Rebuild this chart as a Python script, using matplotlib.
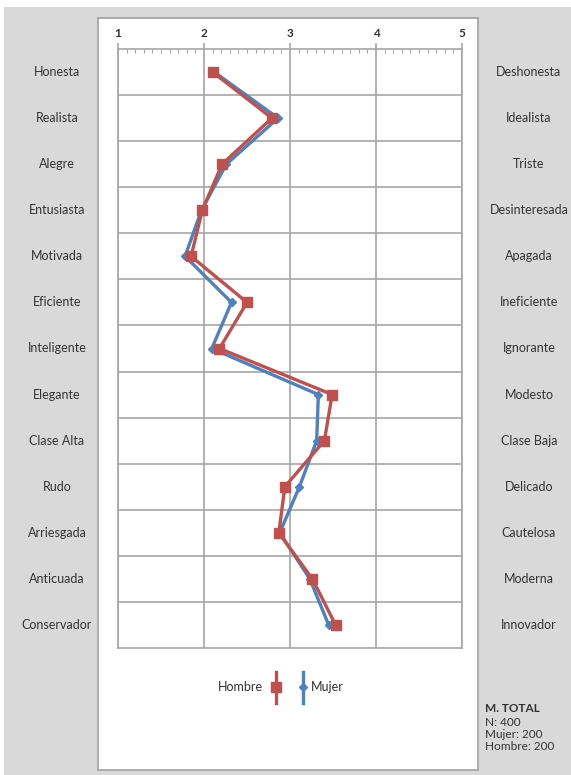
import matplotlib.pyplot as plt
from matplotlib.lines import Line2D
from matplotlib.patches import Rectangle
from matplotlib.ticker import MultipleLocator

left_labels = ["Honesta", "Realista", "Alegre", "Entusiasta", "Motivada", "Eficiente",
               "Inteligente", "Elegante", "Clase Alta", "Rudo", "Arriesgada",
               "Anticuada", "Conservador"]
right_labels = ["Deshonesta", "Idealista", "Triste", "Desinteresada", "Apagada",
                "Ineficiente", "Ignorante", "Modesto", "Clase Baja", "Delicado",
                "Cautelosa", "Moderna", "Innovador"]
hombre = [2.10, 2.79, 2.21, 1.98, 1.85, 2.50, 2.18, 3.49, 3.40, 2.94, 2.87, 3.26, 3.53]
mujer = [2.12, 2.86, 2.26, 1.97, 1.78, 2.32, 2.09, 3.33, 3.31, 3.11, 2.88, 3.23, 3.45]
x_ticks = [1, 2, 3, 4, 5]

RED = "#c0504d"
BLUE = "#4f81bd"
GRID = "#a6a6a6"
TXT = "#333333"
W, H = 571, 775

plt.rcParams['font.family'] = ['Lato', 'DejaVu Sans']

fig = plt.figure(figsize=(W / 100, H / 100), dpi=100)
fig.patch.set_facecolor("white")

# gray background and white panel
fig.add_artist(Rectangle((4 / W, 0), 1 - 4 / W, 1 - 7 / H, transform=fig.transFigure,
                         facecolor="#d9d9d9", edgecolor="none", zorder=-10))
fig.add_artist(Rectangle((98 / W, 1 - 770 / H), 380 / W, 752 / H, transform=fig.transFigure,
                         facecolor="white", edgecolor="#a0a0a0", lw=1.2, zorder=-9))

ax = fig.add_axes([118 / W, 1 - 648 / H, 344 / W, 599 / H])
ax.set_facecolor("white")
ypos = list(range(len(left_labels)))

ax.plot(mujer, ypos, color=BLUE, lw=2.4, marker="D", ms=4.5, zorder=3)
ax.plot(hombre, ypos, color=RED, lw=2.4, marker="s", ms=7, zorder=4)

ax.set_xlim(1, 5)
ax.set_ylim(len(left_labels) - 0.5, -0.5)
ax.xaxis.tick_top()
ax.set_xticks(x_ticks)
ax.set_xticklabels([str(t) for t in x_ticks], fontsize=8.5, color=TXT, fontweight="bold")
ax.xaxis.set_minor_locator(MultipleLocator(0.1))
ax.tick_params(axis="x", which="major", direction="out", length=4, width=1.2, color=GRID, pad=3)
ax.tick_params(axis="x", which="minor", direction="in", length=3, width=0.8, color=GRID)
ax.set_yticks([i + 0.5 for i in ypos[:-1]])
ax.set_yticklabels([])
ax.tick_params(axis="y", length=0)
ax.grid(True, which="major", color=GRID, lw=1.2)
for s in ax.spines.values():
    s.set_color(GRID)
    s.set_linewidth(1.2)
ax.set_axisbelow(True)

tr = ax.get_yaxis_transform()
for i in ypos:
    ax.text((57 - 118) / 344, i, left_labels[i], transform=tr, ha="center", va="center",
            fontsize=9, color=TXT)
    ax.text((529 - 118) / 344, i, right_labels[i], transform=tr, ha="center", va="center",
            fontsize=9, color=TXT)

# legend
ly = 1 - 687 / H
fig.text(263 / W, ly, "Hombre", ha="right", va="center", fontsize=9, color=TXT)
fig.add_artist(Line2D([276 / W, 276 / W], [1 - 672 / H, 1 - 703 / H], transform=fig.transFigure,
                      color=RED, lw=2.4))
fig.add_artist(Line2D([276 / W], [ly], transform=fig.transFigure, color=RED, marker="s", ms=7))
fig.add_artist(Line2D([303 / W, 303 / W], [1 - 672 / H, 1 - 703 / H], transform=fig.transFigure,
                      color=BLUE, lw=2.4))
fig.add_artist(Line2D([303 / W], [ly], transform=fig.transFigure, color=BLUE, marker="D", ms=4.5))
fig.text(311 / W, ly, "Mujer", ha="left", va="center", fontsize=9, color=TXT)

# sample note
fig.text(485 / W, 1 - 709 / H, "M. TOTAL", fontsize=8.5, fontweight="bold", color=TXT, va="center")
for k, line in enumerate(["N: 400", "Mujer: 200", "Hombre: 200"]):
    fig.text(485 / W, 1 - (722 + 12.3 * k) / H, line, fontsize=8.5, color=TXT, va="center")

fig.savefig("out.png", dpi=100)
